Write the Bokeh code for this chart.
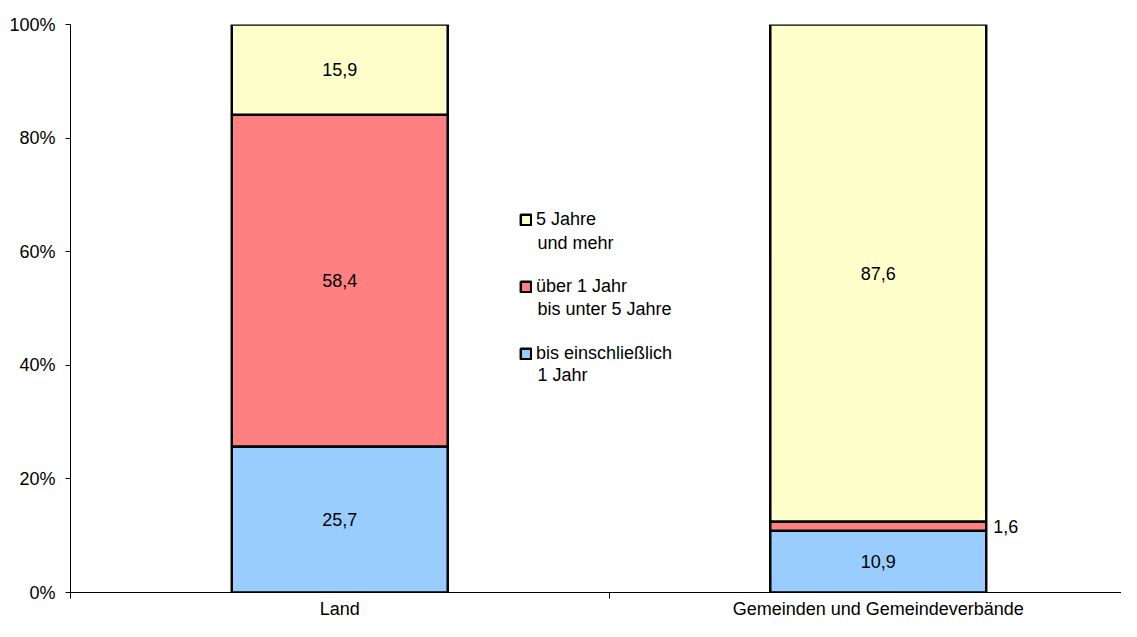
from bokeh.plotting import figure
from bokeh.models import Range1d, FixedTicker, ColumnDataSource, Legend, LegendItem
from bokeh.embed import file_html
from bokeh.resources import INLINE
from bokeh.core.properties import value

# ---- data ----
categories = ["Land", "Gemeinden und Gemeindeverbände"]
legend_first_lines = ["bis einschließlich", "über 1 Jahr", "5 Jahre"]
legend_second_lines = ["1 Jahr", "bis unter 5 Jahre", "und mehr"]
bis_1_jahr = [25.7, 10.9]
ueber_1_bis_5_jahre = [58.4, 1.6]
ab_5_jahre = [15.9, 87.6]
y_ticks = [0, 20, 40, 60, 80, 100]
y_tick_labels = ["0%", "20%", "40%", "60%", "80%", "100%"]
colors = ["#99CCFF", "#FF8080", "#FFFFCC"]

FONT = "Liberation Sans"
FS = "18px"

# layout (pixels)
W, H = 1121, 621
LEFT, TOP, BOTTOM = 70, 24, 29
PX_PER_CAT = 538.5
FRAME_H = H - TOP - BOTTOM
FRAME_B = H - BOTTOM

series = [bis_1_jahr, ueber_1_bis_5_jahre, ab_5_jahre]
keys = ["s0", "s1", "s2"]
xpos = [i + 0.5 for i in range(len(categories))]
totals = [sum(s[i] for s in series) for i in range(len(categories))]
shares = [[s[i] / totals[i] * 100 for i in range(len(categories))] for s in series]

data = {"x": xpos}
for k, sh in zip(keys, shares):
    data[k] = sh
src = ColumnDataSource(data)

bar_w = 0.401

p = figure(width=W, height=H, output_backend="svg", toolbar_location=None,
           x_range=Range1d(0, (W - LEFT) / PX_PER_CAT), y_range=Range1d(0, 100),
           min_border_left=LEFT, min_border_right=0, min_border_top=TOP,
           min_border_bottom=BOTTOM)
p.outline_line_color = None
p.xgrid.grid_line_color = None
p.ygrid.grid_line_color = None

rs = p.vbar_stack(keys, x="x", width=bar_w, color=colors, source=src,
                  line_color="black", line_width=2.5)

# value labels
lx, ly, lt, la, lo = [], [], [], [], []
for ci in range(len(categories)):
    base = 0.0
    for si, s in enumerate(series):
        h = shares[si][ci]
        txt = f"{s[ci]:.1f}".replace(".", ",")
        if h < 5:
            lx.append(xpos[ci] + bar_w / 2)
            la.append("left")
            lo.append(7)
        else:
            lx.append(xpos[ci])
            la.append("center")
            lo.append(0)
        ly.append(base + h / 2)
        lt.append(txt)
        base += h
lsrc = ColumnDataSource(dict(x=lx, y=ly, t=lt, a=la, o=lo))
p.text(x="x", y="y", text="t", source=lsrc, text_align="a", x_offset="o",
       text_baseline="middle", text_font=value(FONT), text_font_size=FS, text_color="black")

# axes
ya = p.yaxis[0]
ya.ticker = FixedTicker(ticks=y_ticks, minor_ticks=[])
ya.major_label_overrides = {t: l for t, l in zip(y_ticks, y_tick_labels)}
ya.major_tick_out = 5
ya.major_tick_in = 0
ya.major_label_standoff = 10
ya.axis_line_color = "black"
ya.major_tick_line_color = "black"
ya.major_label_text_font = FONT
ya.major_label_text_font_size = FS
ya.major_label_text_color = "black"

xa = p.xaxis[0]
xa.ticker = FixedTicker(ticks=xpos, minor_ticks=[0, 1, 2])
xa.major_label_overrides = {x: c for x, c in zip(xpos, categories)}
xa.major_tick_line_color = None
xa.major_tick_out = 0
xa.major_tick_in = 0
xa.minor_tick_out = 6
xa.minor_tick_in = 0
xa.minor_tick_line_color = "black"
xa.axis_line_color = "black"
xa.major_label_standoff = 0
xa.major_label_text_font = FONT
xa.major_label_text_font_size = FS
xa.major_label_text_color = "black"

# legend (first line of each entry via Bokeh legend, second line as text)
LEG_TOP_PX, LEG_H = 209, 155
items = [LegendItem(label=legend_first_lines[i], renderers=[rs[i]]) for i in reversed(range(3))]
leg = Legend(items=items, location=(449, FRAME_B - LEG_TOP_PX - LEG_H), orientation="vertical")
leg.border_line_color = None
leg.background_fill_alpha = 0
leg.padding = 0
leg.margin = 0
leg.spacing = 45
leg.glyph_width = 13
leg.glyph_height = 13
leg.label_standoff = 4
leg.label_height = 22
leg.label_text_font = FONT
leg.label_text_font_size = FS
leg.label_text_color = "black"
leg.label_text_baseline = "middle"
p.add_layout(leg)

second_px_y = [374, 308, 242]
sx = [(537 - LEFT) / PX_PER_CAT] * 3
sy = [(FRAME_B - y) / FRAME_H * 100 for y in second_px_y]
p.text(x=sx, y=sy, text=legend_second_lines, text_baseline="middle", text_align="left",
       text_font=value(FONT), text_font_size=FS, text_color="black")

open("out.html", "w").write(file_html(p, INLINE))
